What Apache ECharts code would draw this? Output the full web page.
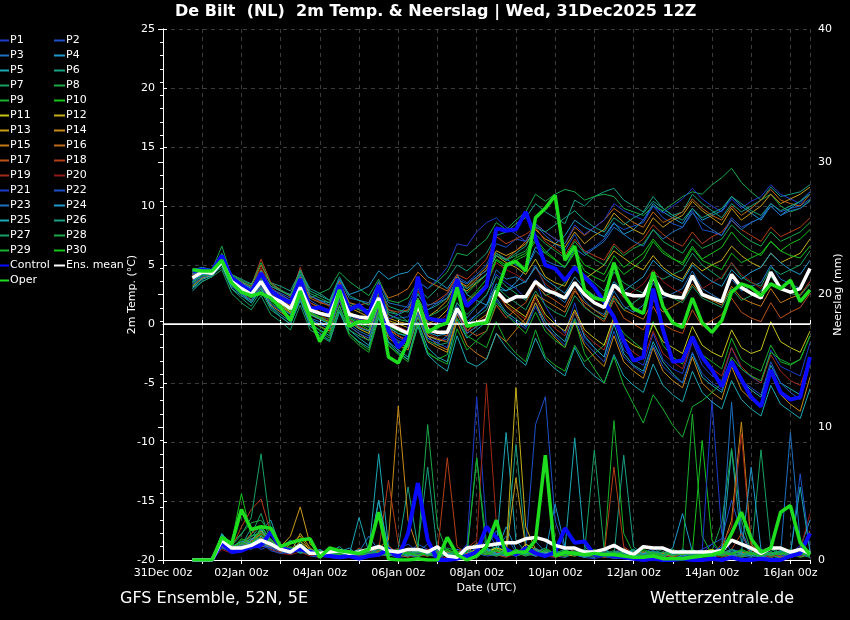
<!DOCTYPE html>
<html>
<head>
<meta charset="utf-8">
<title>De Bilt GFS Ensemble</title>
<script src="https://cdn.jsdelivr.net/npm/echarts@6/dist/echarts.min.js"></script>
<style>
html,body{margin:0;padding:0;background:#000;}
#chart{width:850px;height:620px;}
</style>
</head>
<body>
<div id="chart"></div>
<script>
// time steps: first value at 31Dec 18Z (hour 18 after 31Dec 00Z), every 6 hours
var firstHour = 18;
var stepHours = 6;

// 2m temperature per member (deg C)
var t01 = [3.5,4.0,4.2,5.6, 3.8,3.2,2.6,4.0, 2.5,2.0,1.4,3.5, 1.0,0.6,0.2,2.9, 0.5,0.1,-0.3,2.0, -0.6,-1.2,-1.5,1.0, -1.0,-1.4,-1.3,1.5, 0.2,0.8,1.5,4.2, 3.5,3.0,2.2,3.8, 1.5,0.2,-0.8,1.8, -1.2,-2.0,-2.8,0.5, -2.2,-3.0,-3.5,-0.8, -3.0,-3.8,-4.2,-1.5, -3.5,-4.4,-4.8,-2.0, -3.8,-4.5,-5.0,-2.2, -3.6,-4.0,-4.4,-1.6];
var t02 = [4.2,4.6,4.5,5.2, 3.9,3.4,3.0,4.2, 3.0,2.6,2.2,3.8, 2.0,1.5,1.2,3.2, 1.6,1.3,1.0,2.8, 0.8,0.5,0.6,2.5, 1.2,1.8,2.5,4.0, 3.5,4.2,5.0,6.8, 6.5,7.2,7.0,8.4, 7.5,6.8,6.2,7.6, 6.0,6.5,7.2,8.5, 8.0,8.3,8.6,10.0, 9.0,8.5,8.2,9.6, 8.0,7.8,7.5,9.0, 8.2,8.6,9.0,10.2, 9.5,9.8,10.0,10.6];
var t03 = [3.0,3.8,4.1,5.0, 3.2,2.5,2.0,3.3, 2.0,1.6,0.8,2.6, 0.5,0.2,-0.2,2.3, 0.0,-0.6,-1.0,1.6, -0.8,-1.5,-2.0,0.8, -1.2,-1.6,-1.0,1.8, 0.5,1.5,2.4,4.6, 3.8,4.0,3.5,5.0, 3.2,2.5,1.8,3.4, 2.0,1.2,0.8,2.8, 1.5,1.0,1.6,3.5, 2.2,2.6,3.0,4.5, 3.0,2.5,2.0,3.8, 2.8,3.2,3.5,5.0, 3.8,3.4,3.0,4.5];
var t04 = [4.6,4.8,4.6,5.5, 4.0,3.5,3.0,4.4, 3.2,2.8,2.5,4.2, 2.4,2.0,1.8,3.8, 2.5,2.8,3.2,4.5, 3.8,4.2,4.4,5.2, 4.0,3.6,3.0,4.2, 2.5,2.0,1.6,3.0, 2.8,3.5,4.6,6.5, 6.0,6.8,7.5,8.8, 8.2,7.8,7.4,8.6, 7.6,8.0,8.8,10.2, 9.5,9.0,8.5,9.8, 8.8,9.2,9.6,10.8, 10.0,9.4,8.8,10.0, 9.2,9.8,10.4,11.2];
var t05 = [2.8,3.6,4.0,5.2, 3.4,2.6,1.8,3.0, 1.5,0.8,0.2,2.2, 0.0,-0.5,-1.0,1.5, -0.5,-1.2,-1.8,1.0, -1.5,-2.2,-2.8,0.2, -2.0,-2.8,-3.2,0.4, -1.2,-0.5,0.2,2.2, 1.0,0.4,-0.2,1.8, 0.2,-0.8,-1.5,1.0, -1.0,-2.0,-2.8,0.0, -2.5,-3.5,-4.0,-1.5, -3.2,-4.2,-5.0,-2.5, -4.5,-5.2,-5.8,-3.2, -4.8,-5.6,-6.2,-3.5, -5.0,-5.5,-6.0,-3.0];
var t06 = [4.0,4.5,4.4,5.6, 4.2,3.8,3.4,4.6, 3.5,3.2,2.8,4.5, 3.0,2.6,2.0,3.6, 1.8,1.4,1.2,2.9, 1.0,0.8,1.2,3.0, 2.2,3.0,3.8,5.0, 4.5,5.2,6.0,7.5, 7.8,8.5,9.0,10.2, 9.5,9.0,8.5,10.5, 10.0,10.8,11.2,11.5, 10.5,10.0,9.5,10.8, 9.8,9.2,9.5,11.0, 10.2,9.6,9.0,10.2, 9.5,10.0,10.5,11.6, 10.8,11.0,11.2,11.8];
var t07 = [3.3,4.0,4.2,4.8, 3.0,2.2,1.5,2.8, 1.2,0.6,0.0,2.0, 0.4,0.0,-0.4,2.2, 0.6,0.2,0.5,2.6, 1.2,0.8,0.2,2.0, 0.2,-0.2,0.0,1.8, 0.8,1.6,2.5,4.0, 3.2,2.6,2.0,3.5, 2.4,2.8,3.5,5.0, 4.2,3.5,2.8,4.4, 3.5,3.0,2.6,4.2, 3.8,4.2,4.6,6.0, 5.0,4.4,3.8,5.2, 4.0,3.5,3.2,4.8, 4.2,4.6,5.0,6.2];
var t08 = [4.4,4.7,4.6,6.6, 4.0,3.4,2.8,4.0, 2.6,2.0,1.8,3.6, 2.2,2.6,3.0,4.4, 3.6,3.0,2.4,3.8, 2.0,1.8,2.2,3.6, 3.0,3.6,4.4,6.0, 5.8,6.5,7.2,8.6, 8.0,8.8,9.5,11.0, 10.4,11.0,11.4,11.2, 10.5,10.8,11.0,10.8, 9.8,9.5,9.2,10.0, 9.6,10.2,10.8,11.2, 11.0,11.8,12.4,13.2, 12.0,11.2,10.5,11.0, 10.0,9.5,9.8,10.5];
var t09 = [3.6,4.2,4.3,5.0, 3.2,2.6,2.0,3.0, 1.8,1.2,0.5,2.5, 0.2,-0.6,-1.2,1.2, -1.0,-1.8,-2.4,0.5, -1.8,-2.5,-3.0,0.0, -2.5,-3.0,-2.6,0.5, -1.0,-1.5,-2.0,0.2, -1.5,-2.5,-3.2,-0.5, -2.8,-3.5,-4.0,-1.8, -3.2,-2.5,-1.8,0.5, -0.8,-1.5,-2.2,0.2, -1.8,-2.8,-3.4,-1.0, -2.6,-3.2,-3.8,-1.2, -3.0,-3.6,-4.0,-1.8, -3.2,-3.5,-3.0,-1.0];
var t10 = [4.5,4.4,4.3,5.4, 3.7,3.1,2.5,3.5, 2.2,1.6,1.0,2.8, 1.0,0.6,0.4,2.6, 0.4,0.0,-0.2,1.9, -0.3,-0.8,-1.0,1.4, -0.6,-0.4,0.4,2.6, 2.0,2.8,3.8,5.5, 5.0,5.6,6.0,7.2, 6.2,5.5,4.8,6.0, 4.5,4.0,3.6,5.2, 4.2,4.8,5.5,7.0, 6.0,5.5,5.2,6.6, 5.5,6.0,6.5,7.8, 6.8,6.2,5.8,7.0, 6.2,6.8,7.2,8.0];
var t11 = [3.8,4.3,4.4,5.4, 3.5,2.9,2.4,3.6, 2.2,1.7,1.0,3.0, 0.8,0.4,0.0,2.4, 0.2,-0.4,-0.8,1.7, -0.5,-1.0,-1.4,1.0, -1.0,-1.3,-1.5,0.9, -0.8,-0.2,0.5,2.5, 1.8,1.2,0.6,2.4, 0.8,0.0,-0.6,1.2, -0.5,-1.2,-1.8,0.6, -1.2,-1.8,-2.2,0.0, -1.5,-2.0,-2.5,-0.2, -1.8,-2.4,-2.8,-0.5, -2.0,-2.5,-2.2,0.2, -1.5,-2.0,-2.4,-0.6];
var t12 = [4.3,4.5,4.4,5.6, 3.8,3.2,2.8,3.9, 2.6,2.1,1.6,3.3, 1.5,1.0,0.8,3.0, 1.0,0.6,0.3,2.4, 0.3,0.0,-0.3,2.0, 0.0,0.4,1.2,3.2, 2.8,3.5,4.2,5.8, 5.2,4.8,4.2,5.5, 4.0,3.5,3.2,4.8, 3.8,4.4,5.0,6.2, 5.6,5.0,4.6,5.8, 4.8,4.2,3.8,5.2, 4.5,5.0,5.4,6.6, 5.8,5.2,4.8,6.0, 5.2,5.6,6.0,7.2];
var t13 = [4.1,4.5,4.4,5.3, 3.6,3.1,2.6,4.2, 2.8,2.3,1.8,3.6, 1.8,1.4,1.0,3.4, 1.4,1.0,0.6,2.8, 0.5,0.2,0.0,2.2, 0.6,1.2,2.0,3.6, 3.2,4.0,4.8,6.2, 5.8,6.2,6.8,8.0, 7.2,6.8,6.5,7.8, 6.8,7.5,8.0,9.4, 8.6,8.0,7.6,9.0, 8.2,8.8,9.2,10.4, 9.6,9.0,8.4,9.8, 8.8,9.4,10.0,11.0, 10.2,10.6,11.0,11.6];
var t14 = [3.2,3.9,4.1,5.2, 3.3,2.7,2.0,3.2, 1.6,1.0,0.4,2.4, 0.2,-0.2,-0.6,2.0, -0.2,-0.8,-1.4,1.2, -1.2,-1.8,-2.2,0.6, -1.5,-2.0,-2.4,0.8, -0.6,0.2,0.8,2.8, 1.5,0.8,0.0,1.8, -0.2,-1.2,-2.0,0.2, -1.8,-2.8,-3.6,-1.0, -3.2,-4.0,-4.6,-2.0, -4.0,-4.8,-5.4,-2.8, -5.0,-5.8,-6.4,-3.6, -5.6,-6.4,-7.0,-4.2, -6.0,-6.8,-7.4,-4.5];
var t15 = [3.9,4.4,4.3,5.5, 3.6,2.9,2.3,3.4, 2.0,1.5,0.9,2.9, 0.9,0.5,0.2,2.5, 0.3,-0.2,-0.6,1.8, -0.4,-1.0,-1.5,1.2, -1.0,-1.8,-2.2,0.2, -1.8,-2.5,-3.0,-0.8, -1.5,-0.5,0.5,2.5, 2.0,1.5,1.0,2.8, 1.8,1.2,0.6,2.4, 1.2,0.8,0.4,2.0, 1.0,1.5,2.0,3.4, 2.4,2.0,1.6,3.2, 2.2,1.8,1.5,3.0, 1.8,2.2,2.5,3.6];
var t16 = [4.4,4.6,4.5,5.8, 4.0,3.5,3.2,5.0, 3.4,2.8,2.4,4.0, 2.2,1.8,1.6,3.6, 1.8,1.6,1.8,3.5, 2.2,2.5,3.0,4.4, 3.6,3.2,2.8,4.0, 3.0,3.8,4.6,6.0, 5.5,6.2,7.0,8.5, 7.8,7.2,6.8,8.2, 7.5,8.2,8.8,9.8, 9.2,8.6,8.2,9.5, 8.6,9.0,9.5,10.6, 9.8,9.2,8.8,10.0, 9.2,9.8,10.5,11.4, 10.5,10.2,10.0,11.0];
var t17 = [4.2,4.5,4.4,5.4, 3.7,3.1,2.7,4.6, 2.9,2.4,1.9,3.8, 1.6,1.0,0.6,3.0, 0.8,0.3,-0.1,2.4, 0.0,-0.5,-0.8,1.8, -0.4,-0.8,-1.0,1.2, -0.5,-1.0,-0.6,1.6, 0.5,1.2,1.8,3.4, 2.5,2.0,1.4,3.0, 1.5,0.8,0.2,2.0, 0.5,0.0,-0.5,1.5, 0.0,-0.5,-0.8,1.2, -0.2,0.3,0.8,2.2, 1.0,0.5,0.2,1.8, 0.5,1.0,1.4,2.6];
var t18 = [4.3,4.6,4.5,5.5, 4.0,3.6,3.2,5.5, 3.5,2.9,2.3,4.8, 2.4,1.9,1.5,3.6, 1.6,1.2,1.0,3.3, 1.2,1.0,1.2,2.8, 1.5,2.0,2.6,4.2, 3.8,4.6,5.5,7.4, 6.8,7.2,7.6,8.2, 7.0,6.4,5.8,7.2, 6.2,5.8,5.4,6.8, 6.0,6.6,7.2,8.4, 7.6,7.0,6.6,7.8, 6.8,7.4,7.8,8.8, 8.0,7.5,7.0,8.2, 7.4,7.8,8.2,9.0];
var t19 = [4.0,4.4,4.3,5.3, 3.6,3.0,2.5,4.4, 2.6,2.0,1.5,3.4, 1.2,0.8,0.3,2.6, 0.4,-0.2,-0.6,1.9, -0.4,-1.0,-1.4,1.4, -0.8,-1.2,-1.5,1.0, -0.6,0.0,0.6,2.6, 1.6,1.0,0.4,2.2, 0.5,-0.4,-1.0,1.0, -0.8,-1.6,-2.2,0.4, -1.6,-2.4,-3.0,-0.6, -2.5,-3.2,-3.8,-1.4, -3.0,-3.8,-4.4,-2.0, -3.6,-4.4,-5.0,-2.6, -4.0,-4.8,-5.2,-2.8];
var t20 = [4.1,4.5,4.4,5.6, 3.8,3.3,2.9,4.8, 3.1,2.5,2.0,3.9, 1.8,1.3,0.9,3.0, 0.9,0.5,0.2,2.5, 0.2,-0.2,-0.6,1.9, -0.2,0.2,0.8,2.8, 2.0,2.6,3.4,5.2, 4.6,4.2,3.6,4.8, 3.4,2.8,2.2,3.6, 2.4,1.8,1.4,3.2, 2.2,2.8,3.4,4.6, 3.6,3.0,2.6,4.0, 3.0,3.5,4.0,5.2, 4.2,3.6,3.0,4.2, 3.0,2.6,2.4,3.6];
var t21 = [3.7,4.2,4.3,5.4, 3.5,2.9,2.4,3.8, 2.4,1.9,1.3,3.2, 1.2,0.8,0.6,2.8, 0.7,0.4,0.2,2.3, 0.4,0.8,1.6,3.6, 3.0,3.8,4.8,6.8, 6.6,7.8,8.6,9.0, 8.2,7.6,7.0,8.5, 7.8,7.2,6.8,8.4, 7.6,8.2,8.8,10.2, 9.6,9.2,8.8,10.0, 9.4,10.0,10.6,11.5, 10.6,10.0,9.5,10.6, 9.8,10.4,10.8,11.8, 11.0,10.6,10.2,11.2];
var t22 = [3.4,4.0,4.2,5.0, 3.2,2.6,2.0,3.2, 1.7,1.1,0.5,2.6, 0.4,0.0,-0.4,2.0, -0.2,-0.8,-1.2,1.4, -0.8,-1.4,-1.8,1.0, -1.2,-1.6,-2.0,1.0, -0.8,-0.2,0.2,2.0, 0.8,0.2,-0.4,1.5, -0.2,-1.0,-1.8,0.5, -1.5,-2.4,-3.2,-0.6, -2.8,-3.6,-4.2,-1.8, -3.6,-4.4,-5.0,-2.4, -4.2,-5.0,-5.6,-3.0, -4.8,-5.4,-6.0,-3.2, -5.0,-5.8,-6.4,-3.4];
var t23 = [4.2,4.5,4.4,5.7, 3.9,3.4,2.9,4.3, 3.0,2.5,2.0,4.2, 2.4,2.0,1.6,3.8, 2.2,2.0,1.8,3.6, 1.8,1.6,1.4,3.0, 1.6,1.8,2.2,3.8, 3.4,4.0,4.5,6.0, 5.5,5.0,4.6,6.2, 5.4,5.0,4.8,6.4, 5.8,6.4,7.0,8.2, 7.6,7.0,6.6,8.0, 7.2,7.8,8.2,9.4, 8.6,8.0,7.5,8.8, 8.0,8.6,9.0,10.0, 9.2,9.6,9.8,10.4];
var t24 = [3.6,4.2,4.3,5.1, 3.4,2.8,2.2,3.4, 2.0,1.4,0.8,2.8, 0.8,0.4,0.0,2.4, 0.3,-0.3,-0.6,1.8, -0.3,-0.8,-1.1,1.5, -0.7,-1.0,-0.8,1.4, 0.0,0.8,1.6,3.4, 2.8,3.2,3.6,4.8, 3.8,3.2,2.6,4.0, 3.0,2.4,2.0,3.6, 2.8,3.4,4.0,5.4, 4.6,4.0,3.6,5.0, 4.2,3.6,3.2,4.6, 3.8,4.4,4.8,6.0, 5.2,4.6,4.2,5.4];
var t25 = [3.1,3.8,4.1,5.0, 3.0,2.4,1.8,3.0, 1.4,0.6,0.0,2.0, -0.2,-0.8,-1.4,1.0, -0.8,-1.5,-2.0,0.6, -1.6,-2.4,-3.0,-0.2, -2.6,-3.4,-4.0,-1.0, -3.2,-3.6,-3.0,-0.8, -2.0,-2.8,-3.5,-1.2, -3.0,-3.8,-4.4,-2.0, -3.6,-4.4,-5.0,-2.6, -4.4,-5.2,-5.8,-3.4, -5.2,-6.0,-6.6,-4.0, -5.8,-6.6,-7.2,-4.8, -6.4,-7.2,-7.8,-5.2, -6.8,-7.4,-8.0,-5.5];
var t26 = [4.3,4.5,4.4,5.9, 4.1,3.6,3.1,4.5, 3.2,2.8,2.4,4.6, 2.8,2.4,2.0,4.0, 2.4,2.0,1.6,3.2, 1.5,1.2,1.0,2.6, 1.2,1.6,2.2,3.6, 3.0,3.6,4.2,5.8, 5.4,6.0,6.6,8.2, 7.8,8.4,9.0,9.6, 8.8,8.2,7.8,9.0, 8.4,9.0,9.4,10.4, 9.8,9.2,8.8,9.8, 9.0,9.4,9.8,10.8, 10.2,9.6,9.2,10.2, 9.6,10.0,10.4,11.0];
var t27 = [3.0,3.6,4.0,4.6, 2.6,1.8,1.2,2.4, 0.8,0.2,-0.5,1.6, -0.5,-1.0,-1.5,1.2, -0.5,-1.0,-1.4,1.0, -1.0,-1.6,-2.0,0.6, -1.4,-1.8,-1.6,1.2, -0.2,0.6,1.2,3.2, 2.4,1.8,1.2,2.8, 1.6,1.0,0.6,2.4, 1.4,0.8,0.4,2.2, 1.2,1.8,2.4,3.8, 2.8,2.2,1.8,3.2, 2.2,1.8,1.4,3.0, 2.0,2.4,2.8,4.0, 3.0,2.6,2.4,3.4];
var t28 = [4.5,4.7,4.5,6.0, 4.2,3.7,3.3,5.2, 3.4,2.9,2.4,4.4, 2.6,2.2,1.8,3.4, 1.6,1.2,0.9,2.6, 0.8,0.4,0.2,2.2, 0.6,1.0,1.6,3.4, 2.6,3.4,4.2,6.0, 5.4,5.8,6.2,7.6, 6.8,6.2,5.6,7.0, 6.0,5.5,5.0,6.6, 5.8,6.4,6.8,8.0, 7.0,6.5,6.0,7.2, 6.4,6.8,7.2,8.4, 7.6,7.0,6.6,7.8, 7.0,7.4,7.8,8.6];
var t29 = [3.5,4.1,4.2,5.2, 3.4,2.8,2.2,3.5, 2.0,1.3,0.6,2.6, 0.4,-0.2,-0.8,1.6, -0.8,-1.6,-2.2,0.8, -1.8,-2.6,-3.2,0.0, -2.4,-3.0,-3.4,-0.4, -2.2,-1.4,-0.6,1.8, 0.8,0.0,-0.8,1.0, -0.6,-1.4,-2.0,0.4, -2.5,-3.8,-5.0,-2.8, -5.2,-6.8,-8.4,-6.0, -7.2,-8.6,-9.6,-7.0, -6.5,-5.8,-5.0,-2.8, -3.8,-4.4,-4.8,-2.4, -3.0,-3.4,-3.0,-1.0];
var t30 = [4.0,4.4,4.3,5.4, 3.7,3.1,2.6,3.9, 2.5,1.8,1.1,2.9, 0.9,0.5,0.1,2.6, 0.5,0.0,-0.5,2.0, -0.2,-0.6,-0.9,1.6, -0.6,-0.4,0.4,2.4, 1.8,2.6,3.4,5.4, 4.8,5.4,5.8,7.0, 6.0,5.4,4.8,6.2, 5.0,4.6,4.2,5.8, 4.8,5.4,6.0,7.2, 6.2,5.6,5.0,6.4, 5.4,5.0,4.6,6.0, 5.2,5.6,6.0,7.0, 6.2,5.8,5.6,6.6];
var tControl = [4.5,4.6,4.5,5.8, 3.9,3.3,2.7,4.3, 2.8,2.2,1.8,3.8, 1.3,1.4,1.0,3.3, 1.2,1.6,0.8,3.3, -0.5,-2.0,-1.0,4.0, 0.5,0.3,0.3,3.8, 1.5,2.3,3.2,8.1, 7.9,8.0,9.5,7.3, 5.0,4.7,3.7,4.8, 4.0,3.1,1.9,0.6, -1.4,-3.1,-2.8,3.0, -0.5,-3.2,-3.1,-1.1, -2.8,-3.9,-5.3,-3.2, -4.7,-6.2,-7.0,-3.9, -5.8,-6.4,-6.2,-2.8];
var tMean = [3.9,4.4,4.3,5.3, 3.6,3.0,2.5,3.6, 2.3,1.9,1.3,3.1, 1.2,0.9,0.7,2.8, 0.8,0.6,0.5,2.2, 0.0,-0.4,-0.8,1.6, -0.5,-0.7,-0.7,1.3, 0.0,0.1,0.3,2.8, 1.9,2.3,2.3,3.6, 2.9,2.6,2.2,3.5, 2.5,1.8,1.4,3.3, 2.6,2.4,2.4,4.0, 2.6,2.3,2.2,4.1, 2.5,2.2,1.9,4.2, 3.1,2.6,2.2,4.4, 3.0,2.7,3.0,4.7];
var tOper = [4.6,4.5,4.5,5.4, 3.5,2.7,2.4,2.6, 2.2,1.4,0.3,2.8, 0.5,-1.5,0.0,2.9, -0.2,0.2,0.2,1.9, -2.8,-3.3,-1.5,2.0, -0.7,-0.2,0.1,3.1, -0.2,0.0,0.1,2.5, 5.0,5.3,4.5,9.0, 9.8,10.9,5.4,6.6, 2.9,2.2,2.0,5.2, 2.5,1.3,0.9,4.4, 1.5,0.1,-0.3,2.2, 0.1,-0.7,0.3,2.7, 3.4,3.1,2.4,3.4, 3.0,3.7,1.9,2.9];

// 6-hourly precipitation per member (mm)
var r01 = [0,0,0,1.4, 0.9,1.0,1.3,0.8, 1.1,0.7,0.4,0.9, 0.4,0.3,0.2,0.1, 0.2,0.4,0.6,0.5, 0.3,0.8,1.2,0.6, 0.4,0.2,0.1,0.5, 1.0,12.3,2.4,1.0, 0.6,0.4,0.8,0.5, 0.3,0.2,0.6,0.4, 0.2,0.1,0.3,0.6, 0.9,0.4,0.1,0, 0.1,0.3,0.2,0.8, 0.5,1.2,0.4,0.2, 0.1,0,0.2,0.3, 0.2,0.5,1.1,0.6];
var r02 = [0,0,0,0.9, 0.6,0.8,1.1,1.5, 0.9,0.6,0.5,1.2, 0.3,0.2,0.4,0.8, 0.5,0.2,0.3,0.9, 0.6,0.4,0.5,1.2, 0.8,0.4,0.6,0.3, 0.5,0.9,1.4,0.8, 1.8,0.6,0.9,10.2, 12.3,3.0,0.8,0.4, 0.2,0.5,0.3,0.1, 0.2,0.4,0.6,0.2, 0,0.1,0.3,0.5, 0.8,1.2,1.6,4.5, 2.0,0.4,0.2,0.1, 0.2,0.3,0.4,0.2];
var r03 = [0,0,0,1.0, 0.5,0.7,0.9,1.3, 0.8,0.5,0.6,1.0, 0.4,0.5,0.3,0.2, 0.3,0.6,1.8,0.7, 0.4,0.2,0.3,0.6, 1.2,0.5,0.3,0.8, 0.6,0.4,1.0,2.2, 0.9,0.5,0.7,1.4, 0.6,0.3,0.2,0.5, 0.4,0.8,0.3,0.2, 0.1,0.3,0.5,0.9, 0.4,0.2,0.1,0.3, 0.6,0.4,1.0,0.5, 0.3,0.2,0.4,0.8, 0.5,9.6,1.5,0.4];
var r04 = [0,0,0,1.3, 0.7,1.2,0.8,1.6, 1.0,0.8,1.5,0.7, 0.5,0.8,0.4,0.6, 0.9,0.3,0.5,4.5, 0.8,0.6,0.4,0.9, 0.7,0.3,1.6,0.5, 0.2,0.5,0.9,0.6, 2.5,0.8,0.4,0.7, 0.5,4.2,1.0,0.6, 0.3,0.2,0.5,1.2, 0.4,0.3,0.1,0.2, 0.5,0.9,3.5,0.6, 0.3,0.2,0.4,0.8, 0.6,0.5,0.3,0.2, 0.4,0.6,0.9,3.0];
var r05 = [0,0,0,2.0, 1.1,0.9,1.4,2.2, 3.0,0.9,0.6,0.8, 0.5,0.4,0.6,1.0, 0.4,3.2,0.6,8.0, 1.0,0.5,0.4,0.3, 0.6,0.8,0.5,0.4, 0.8,1.2,0.7,0.9, 9.6,1.5,0.6,0.4, 0.3,0.5,0.8,9.2, 1.0,0.4,0.2,0.3, 0.5,0.8,0.4,0.2, 0.3,0.1,0.2,0.4, 0.5,0.3,0.6,8.3, 1.4,0.5,0.3,0.2, 0.4,0.6,0.3,0.5];
var r06 = [0,0,0,1.6, 0.8,1.1,2.4,1.2, 0.9,0.7,0.5,1.1, 0.6,0.3,0.4,0.5, 0.2,0.5,0.8,0.6, 0.5,0.9,5.5,1.0, 7.0,0.6,0.4,0.3, 0.5,0.8,0.6,1.0, 0.7,8.7,1.2,0.5, 0.4,0.6,0.3,0.5, 0.8,0.4,0.6,0.3, 7.9,1.0,0.4,0.2, 0.3,0.5,0.2,0.1, 0.4,0.6,0.3,0.5, 0.7,0.4,0.2,0.3, 0.5,0.3,0.6,0.4];
var r07 = [0,0,0,1.8, 1.0,1.3,1.9,3.5, 1.4,0.8,0.9,0.6, 0.4,0.7,0.5,0.3, 0.6,0.4,0.5,1.2, 0.7,0.3,0.8,0.5, 0.4,0.6,0.9,0.7, 0.3,7.7,1.3,0.8, 0.5,0.7,0.4,0.6, 0.9,0.5,0.3,0.4, 0.6,8.3,0.8,0.4, 0.3,0.2,0.5,0.6, 0.4,0.3,0.2,0.4, 0.6,0.8,0.5,0.3, 0.2,0.4,8.3,1.0, 0.5,0.3,0.4,0.6];
var r08 = [0,0,0,1.5, 1.2,2.0,2.8,3.0, 2.0,1.0,0.7,0.9, 0.5,0.6,0.4,0.5, 0.3,0.5,0.4,0.8, 0.5,0.4,0.6,0.9, 10.2,2.5,0.6,0.4, 0.3,0.5,0.7,0.6, 0.4,0.6,0.8,0.5, 0.3,0.4,0.6,0.5, 0.2,0.4,0.3,0.5, 0.4,0.6,0.3,0.2, 0.5,0.4,0.6,0.3, 0.4,0.7,2.8,8.4, 3.0,0.6,0.4,0.3, 0.2,0.4,0.5,0.3];
var r09 = [0,0,0,1.1, 0.8,1.5,1.0,2.4, 1.2,0.6,0.8,1.0, 0.7,0.4,0.6,0.8, 0.5,0.3,0.6,0.4, 0.9,0.5,0.3,0.7, 0.5,0.3,0.4,0.6, 0.8,0.4,0.5,0.9, 0.6,0.3,0.8,0.4, 0.5,0.7,0.3,0.6, 0.4,0.3,0.5,10.5, 2.0,0.5,0.3,0.2, 0.4,0.6,0.5,11.0, 1.8,0.4,0.3,0.2, 0.5,0.3,0.4,0.6, 0.3,0.5,0.2,0.4];
var r10 = [0,0,0,1.9, 1.3,5.0,1.8,2.0, 1.6,0.9,0.8,1.2, 0.6,0.5,0.3,0.4, 0.7,0.5,0.4,0.6, 0.3,0.6,0.5,0.4, 0.6,0.5,0.8,0.4, 0.5,0.6,0.4,0.7, 0.5,0.8,0.6,0.4, 0.7,0.5,0.3,0.4, 0.6,0.5,0.4,0.3, 0.5,0.4,0.6,0.3, 0.4,0.5,0.3,0.6, 9.0,1.5,0.4,0.3, 0.5,0.4,0.3,0.6, 0.4,0.3,0.5,0.2];
var r11 = [0,0,0,1.2, 0.7,0.9,1.2,1.0, 1.1,0.8,0.6,1.4, 0.8,0.5,0.6,0.4, 0.3,0.5,0.7,0.6, 0.4,0.8,0.5,0.3, 0.4,0.5,0.3,0.6, 0.8,0.5,0.6,0.9, 0.7,0.4,1.2,0.8, 0.6,0.5,0.4,0.3, 0.5,0.6,0.4,0.5, 0.3,0.4,0.6,0.5, 0.4,0.3,0.5,0.4, 0.6,0.8,0.5,0.4, 0.3,0.5,0.6,0.4, 0.3,0.4,0.5,0.6];
var r12 = [0,0,0,1.0, 0.6,0.8,1.3,1.7, 0.9,0.7,0.5,2.0, 0.9,0.4,0.6,0.8, 0.5,0.4,0.3,0.5, 0.6,0.4,0.5,0.7, 0.5,0.3,0.6,0.4, 0.5,0.8,0.6,0.4, 0.6,13.0,2.5,0.8, 0.5,0.6,0.4,0.5, 0.3,0.4,0.6,0.5, 0.4,0.3,0.5,0.6, 0.3,0.5,0.4,0.3, 0.6,0.4,0.5,0.3, 0.4,0.6,0.3,0.5, 0.4,0.3,0.6,0.5];
var r13 = [0,0,0,1.3, 0.8,1.0,1.5,2.2, 1.3,1.0,1.8,4.0, 1.2,0.6,0.5,0.7, 0.4,0.6,0.5,0.8, 0.5,0.6,0.4,0.5, 0.7,0.4,0.5,0.6, 0.4,0.6,0.5,0.8, 0.5,6.2,0.9,0.6, 0.4,0.5,0.6,0.4, 0.5,0.3,0.4,0.6, 0.5,0.4,0.3,0.5, 0.4,0.6,0.5,0.4, 0.5,0.4,0.6,0.5, 0.3,0.4,0.5,0.6, 0.4,0.5,0.3,0.4];
var r14 = [0,0,0,1.1, 0.7,0.9,1.1,1.4, 1.0,0.6,1.2,1.8, 0.7,0.5,0.4,0.6, 0.5,0.4,0.6,0.9, 1.5,11.6,3.0,0.8, 0.5,0.4,0.6,0.5, 0.4,0.5,0.7,0.6, 0.5,0.4,0.6,0.5, 0.4,0.6,0.5,0.4, 0.6,0.5,0.3,0.4, 0.5,0.6,0.4,0.5, 0.3,0.4,0.6,0.5, 0.4,0.6,0.8,3.0, 10.4,1.2,0.5,0.4, 0.3,0.5,0.4,0.6];
var r15 = [0,0,0,1.4, 0.9,1.2,1.6,1.9, 1.2,0.8,0.6,1.0, 0.6,0.4,0.5,0.3, 0.5,0.6,0.4,0.7, 0.5,0.4,0.6,0.5, 0.3,0.5,0.4,0.6, 0.5,0.4,0.6,0.5, 0.7,0.5,0.4,0.6, 0.5,0.4,0.3,0.5, 0.4,0.6,0.5,0.3, 0.4,0.5,0.6,0.4, 0.5,0.3,0.4,0.5, 0.6,0.4,0.5,0.3, 0.5,0.6,0.4,0.5, 0.3,0.4,0.6,0.5];
var r16 = [0,0,0,1.2, 0.8,1.1,1.4,2.0, 1.5,0.9,0.7,1.1, 0.5,0.6,0.4,0.5, 0.6,0.5,0.3,0.4, 0.6,0.4,0.5,0.6, 0.4,0.6,0.5,0.3, 0.5,0.6,0.4,0.5, 0.4,0.6,0.5,0.7, 0.5,0.4,0.6,0.5, 0.4,0.5,0.3,0.6, 0.5,0.4,0.6,0.5, 0.3,0.5,0.4,0.6, 0.5,0.6,0.4,0.5, 0.6,0.4,0.5,0.3, 0.4,0.6,0.5,2.2];
var r17 = [0,0,0,1.0, 0.7,1.0,2.0,2.6, 1.4,0.8,0.6,0.9, 0.5,0.2,0.7,0.4, 0.3,0.9,0.5,0.6, 1.1,0.4,0.2,0.5, 0.8,0.6,0.3,0.2, 0.5,1.3,0.7,0.4, 0.2,0.6,0.9,0.3, 0.5,0.2,0.4,0.8, 0.3,0.6,0.2,0.5, 0.9,0.4,0.1,0.3, 0.6,0.2,0.5,0.4, 0.3,0.7,0.5,0.2, 0.4,0.8,0.3,0.5, 0.2,0.6,0.4,0.7];
var r18 = [0,0,0,1.3, 0.9,2.5,3.8,4.6, 2.0,1.0,0.8,1.0, 0.6,0.4,0.3,0.6, 0.5,0.3,0.4,0.7, 6.0,1.2,0.5,0.4, 0.3,0.6,7.7,1.0, 0.5,0.4,0.6,0.3, 0.4,0.5,0.7,0.6, 0.3,0.4,0.5,0.6, 0.5,0.3,0.4,7.0, 1.0,0.5,0.3,0.4, 0.6,0.5,0.3,0.4, 0.5,0.6,0.4,0.8, 2.0,0.6,0.4,0.5, 0.3,0.4,0.6,0.5];
var r19 = [0,0,0,1.1, 0.6,0.9,1.2,1.5, 1.0,0.6,0.8,0.7, 0.4,0.3,0.5,0.4, 0.6,0.3,0.5,0.4, 0.3,0.5,0.6,0.4, 0.5,0.3,0.4,0.6, 0.9,1.5,13.3,2.8, 0.6,0.4,0.5,0.3, 0.4,0.6,0.3,0.5, 0.4,0.3,0.6,0.4, 0.5,0.3,0.4,0.6, 0.3,0.5,0.4,0.3, 0.6,0.4,1.2,2.5, 9.5,1.0,0.4,0.3, 0.5,0.4,0.3,0.6];
var r20 = [0,0,0,0.8, 0.5,0.7,1.0,1.2, 0.8,0.5,0.4,0.6, 0.3,0.6,0.2,0.4, 0.5,0.2,0.7,0.3, 0.4,0.9,0.3,0.2, 0.6,0.4,0.1,0.5, 0.3,0.8,0.4,0.6, 0.2,0.5,0.3,0.7, 0.4,0.2,0.6,0.3, 0.5,0.8,0.2,0.4, 0.3,0.6,0.5,0.2, 0.4,0.1,0.6,0.3, 0.7,0.4,0.2,0.5, 0.3,0.6,0.4,0.2, 0.5,0.3,0.8,3.5];
var r21 = [0,0,0,1.2, 0.7,1.0,1.3,1.1, 0.9,0.7,0.5,0.8, 0.4,0.6,0.3,0.5, 0.4,0.3,0.6,0.5, 0.3,0.5,0.4,0.8, 0.6,0.4,0.5,0.3, 1.2,0.6,0.8,0.5, 0.4,0.6,0.3,0.5, 0.7,0.5,0.4,0.6, 0.3,0.5,0.6,0.4, 0.5,0.3,0.4,0.6, 0.4,0.5,0.3,0.4, 0.6,12.0,2.0,0.5, 0.4,0.3,0.5,0.6, 0.3,0.5,0.4,0.3];
var r22 = [0,0,0,1.0, 0.6,0.8,1.0,1.3, 0.7,0.5,0.6,0.9, 0.5,0.3,0.4,0.6, 0.3,0.5,0.4,0.3, 0.5,0.4,0.6,0.5, 0.4,0.3,0.5,0.6, 0.4,0.5,0.3,0.4, 0.6,0.4,0.5,0.3, 0.4,0.6,0.5,0.4, 0.3,0.5,0.4,0.6, 0.5,0.4,0.3,0.5, 0.6,0.4,0.5,0.3, 0.4,0.5,0.6,0.4, 0.3,0.5,0.4,0.6, 0.5,0.3,6.5,0.8];
var r23 = [0,0,0,1.5, 0.9,1.1,1.6,1.3, 1.0,0.8,0.6,0.9, 0.5,0.3,0.7,0.4, 0.6,0.2,0.5,0.8, 0.3,0.6,0.4,0.2, 0.7,0.5,0.3,0.6, 0.4,0.2,0.8,0.5, 0.3,0.6,0.4,0.9, 0.5,0.3,0.7,0.4, 0.2,0.6,0.3,0.5, 0.8,0.4,0.2,0.6, 0.3,0.5,0.7,0.2, 0.4,0.6,1.0,11.9, 2.2,0.6,0.3,0.4, 0.5,0.2,0.4,0.6];
var r24 = [0,0,0,1.7, 1.0,1.4,1.2,1.8, 1.1,0.9,0.7,0.6, 0.8,0.5,0.3,0.6, 0.7,0.4,0.9,0.5, 0.3,0.6,0.4,0.7, 0.5,0.2,0.4,0.6, 0.3,0.7,0.5,0.4, 0.8,0.4,0.6,0.3, 0.5,0.7,0.4,0.6, 0.3,0.5,0.8,0.4, 0.6,0.3,0.5,0.7, 0.4,0.6,0.3,0.5, 0.7,0.4,0.6,0.3, 0.5,7.0,0.8,0.4, 0.6,0.3,0.5,0.7];
var r25 = [0,0,0,1.9, 1.2,0.8,1.5,2.3, 1.3,0.7,0.9,0.5, 0.7,0.4,0.6,0.3, 0.5,0.8,0.4,4.5, 0.7,0.5,0.3,0.6, 0.4,0.7,0.5,0.3, 0.6,0.4,0.8,0.5, 0.3,0.6,0.4,0.7, 0.5,0.3,0.6,0.4, 0.7,0.5,0.3,0.6, 0.4,0.7,0.5,0.3, 0.6,0.4,0.8,0.5, 0.3,0.6,0.4,0.7, 0.5,0.3,0.6,0.4, 0.7,0.5,5.5,0.6];
var r26 = [0,0,0,1.4, 0.8,1.0,1.7,2.6, 1.5,0.8,0.6,1.3, 0.6,0.3,0.5,0.8, 0.4,0.6,0.3,0.5, 0.8,0.4,0.6,0.3, 0.5,0.8,0.4,0.6, 0.3,0.5,0.7,0.4, 0.6,0.3,0.5,0.8, 0.4,0.6,0.3,0.5, 0.7,0.4,0.6,0.3, 0.5,0.8,0.4,0.6, 0.3,0.5,0.7,0.4, 0.6,0.3,0.5,0.8, 0.4,0.6,0.3,0.5, 0.7,0.4,0.6,0.3];
var r27 = [0,0,0,1.6, 1.1,1.9,3.2,8.0, 2.2,1.2,0.8,0.6, 0.5,0.7,0.4,0.6, 0.3,0.5,0.8,0.4, 0.6,0.3,0.5,0.7, 0.4,0.6,0.3,0.5, 0.8,0.4,0.6,0.3, 0.5,0.7,0.4,0.6, 0.3,0.5,0.8,0.4, 0.6,0.3,0.5,0.7, 0.4,0.6,0.3,0.5, 0.8,0.4,0.6,0.3, 0.5,0.7,0.4,0.6, 0.3,0.5,0.8,0.4, 0.6,0.3,0.5,0.7];
var r28 = [0,0,0,1.3, 0.9,1.2,1.8,2.1, 1.2,0.9,0.7,1.0, 0.6,0.4,0.7,0.5, 0.3,0.6,0.4,0.8, 0.5,0.3,0.6,0.4, 0.7,0.5,0.3,0.6, 0.4,0.7,0.5,0.3, 0.6,0.4,0.8,0.5, 0.3,0.6,0.4,0.7, 0.5,0.3,0.6,0.4, 0.7,0.5,0.3,0.6, 0.4,0.8,0.5,0.3, 0.6,0.4,0.7,0.5, 0.3,0.6,0.4,0.8, 0.5,0.3,0.6,0.4];
var r29 = [0,0,0,1.8, 1.0,1.3,1.1,2.5, 1.4,0.8,1.0,0.7, 0.4,0.6,0.3,0.5, 0.7,0.4,0.6,0.3, 0.5,0.8,0.4,0.6, 0.3,0.5,0.7,0.4, 0.6,7.7,0.5,0.8, 0.4,0.6,0.3,0.5, 0.7,0.4,0.6,0.3, 0.5,0.8,0.4,0.6, 0.3,0.5,0.7,0.4, 0.6,0.3,0.5,0.8, 0.4,0.6,0.3,0.5, 0.7,0.4,0.6,0.3, 0.5,0.8,0.4,0.6];
var r30 = [0,0,0,1.5, 0.8,1.6,1.3,1.9, 1.1,0.7,0.9,0.8, 0.5,0.3,0.6,0.4, 0.7,0.5,0.3,0.6, 0.4,0.7,0.5,0.3, 0.6,0.4,0.8,0.5, 0.3,0.6,0.4,0.7, 0.5,0.3,0.6,0.4, 0.8,0.5,0.3,0.6, 0.4,0.7,0.5,0.3, 0.6,0.4,0.8,0.5, 0.3,0.6,0.4,0.7, 0.5,0.3,0.6,0.4, 0.8,0.5,0.3,0.6, 0.4,0.7,0.5,0.3];
var rControl = [0,0,0,1.3, 0.6,0.7,1.0,1.1, 2.1,0.9,0.7,0.8, 0.6,0.4,0.3,0.2, 0.3,0.1,0.3,0.4, 0.8,0.2,2.0,5.8, 1.5,0,0,0.1, 0.3,0.6,2.5,1.7, 0.8,0.4,0.9,0.5, 0.3,0.6,2.4,1.3, 1.4,0.4,0.4,0.3, 0.2,0.1,0,0.1, 0,0,0.1,0, 0,0.1,0,0.2, 0,0,0.1,0, 0,0.3,0.5,2.0];
var rMean = [0,0,0,1.5, 0.9,0.9,1.1,1.5, 1.2,0.8,0.6,1.1, 0.5,0.5,0.6,0.7, 0.5,0.6,0.8,1.0, 0.7,0.6,0.8,0.8, 0.6,1.0,0.3,0.2, 0.9,1.0,1.1,1.2, 1.3,1.3,1.6,1.7, 1.5,1.1,0.9,0.9, 0.6,0.6,0.8,1.1, 0.7,0.4,1.0,0.9, 0.9,0.6,0.6,0.6, 0.6,0.6,0.7,1.5, 1.2,0.9,0.5,0.9, 0.9,0.6,0.8,0.5];
var rOper = [0,0,0,1.7, 1.2,3.8,2.3,2.5, 2.4,1.0,1.3,1.5, 1.6,0.2,0.9,0.7, 0.6,0.5,0.8,3.6, 0.1,0,0,0.1, 0,0,1.7,0.4, 0,0.3,1.0,3.0, 0.4,0.6,0.6,1.5, 7.9,0.3,0.6,0.5, 0.4,0.5,0.4,0.4, 0.3,0.2,0.2,0.3, 0.1,0.1,0.1,0.2, 0.3,0.4,0.6,2.0, 3.6,1.6,0.6,0.9, 3.6,4.1,1.3,0.4];

var memberNames = ['P1','P2','P3','P4','P5','P6','P7','P8','P9','P10','P11','P12','P13','P14','P15',
                   'P16','P17','P18','P19','P20','P21','P22','P23','P24','P25','P26','P27','P28','P29','P30'];
var memberTemp = [t01,t02,t03,t04,t05,t06,t07,t08,t09,t10,t11,t12,t13,t14,t15,t16,t17,t18,t19,t20,t21,t22,t23,t24,t25,t26,t27,t28,t29,t30];
var memberRain = [r01,r02,r03,r04,r05,r06,r07,r08,r09,r10,r11,r12,r13,r14,r15,r16,r17,r18,r19,r20,r21,r22,r23,r24,r25,r26,r27,r28,r29,r30];
// P1..P20 run blue -> green -> yellow -> red, P21..P30 repeat P1..P10
var memberColors = ['#1e3ccc','#1d50c8','#1e70c0','#1e98cc','#1ca8b4','#18a084','#18a064','#1aa84a','#18b02c','#16c41a',
                    '#c4c418','#c4ae18','#c89c18','#c88a18','#c47a18','#c06818','#bc5218','#b43e18','#a42a18','#901a18'];

function toPairs(vals) {
    var out = [];
    for (var i = 0; i < vals.length; i++) {
        out.push([firstHour + i * stepHours, vals[i]]);
    }
    return out;
}

function makeLine(name, vals, yIndex, color, width, z) {
    return {
        name: name,
        type: 'line',
        xAxisIndex: 0,
        yAxisIndex: yIndex,
        data: toPairs(vals),
        symbol: 'none',
        showSymbol: false,
        silent: true,
        z: z,
        lineStyle: { color: color, width: width },
        itemStyle: { color: color }
    };
}

function dateLabel(h) {
    if (h % 48 !== 0) return '';
    var d = h / 24;
    if (d === 0) return '31Dec 00z';
    return (d < 10 ? '0' + d : '' + d) + 'Jan 00z';
}

var series = [];
for (var m = 0; m < memberNames.length; m++) {
    var col = memberColors[m % 20];
    series.push(makeLine(memberNames[m], memberTemp[m], 0, col, 1, 2));
    series.push(makeLine(memberNames[m], memberRain[m], 1, col, 1, 2));
}
var ctrlT = makeLine('Control', tControl, 0, '#0a0aff', 4, 3);
ctrlT.markLine = {
    silent: true, symbol: 'none', label: { show: false },
    lineStyle: { color: '#ffffff', width: 1.5, type: 'solid' },
    data: [{ yAxis: 0 }]
};
series.push(ctrlT);
series.push(makeLine('Control', rControl, 1, '#0a0aff', 4, 3));
series.push(makeLine('Ens. mean', tMean, 0, '#ffffff', 3.5, 4));
series.push(makeLine('Ens. mean', rMean, 1, '#ffffff', 3.5, 4));
series.push(makeLine('Oper', tOper, 0, '#1edc1e', 3.5, 5));
series.push(makeLine('Oper', rOper, 1, '#1edc1e', 3.5, 5));

var leftNames = [], rightNames = [];
for (var k = 0; k < memberNames.length; k++) {
    if (k % 2 === 0) leftNames.push(memberNames[k]); else rightNames.push(memberNames[k]);
}
leftNames.push('Control', 'Oper');
rightNames.push('Ens. mean');

var font = 'DejaVu Sans';
// legend text sits right after the short line sample
var legendBase = {
    orient: 'vertical', top: 33, padding: 0, itemGap: 0,
    itemWidth: 11, itemHeight: 2, icon: 'rect',
    textStyle: { color: '#ffffff', fontSize: 11, fontFamily: font, lineHeight: 15, padding: [0, 0, 0, -4] }
};

var chart = echarts.init(document.getElementById('chart'));
var option = {
    backgroundColor: '#000000',
    animation: false,
    title: [
        { text: 'De Bilt  (NL)  2m Temp. & Neerslag | Wed, 31Dec2025 12Z', left: 175, top: 4, padding: 0,
          textStyle: { color: '#ffffff', fontSize: 16, fontWeight: 'bold', fontFamily: font } },
        { text: 'GFS Ensemble, 52N, 5E', left: 120, top: 591, padding: 0,
          textStyle: { color: '#ffffff', fontSize: 16, fontWeight: 'normal', fontFamily: font } },
        { text: 'Wetterzentrale.de', left: 650, top: 591, padding: 0,
          textStyle: { color: '#ffffff', fontSize: 16, fontWeight: 'normal', fontFamily: font } }
    ],
    legend: [
        Object.assign({}, legendBase, { left: -2, data: leftNames }),
        Object.assign({}, legendBase, { left: 54, data: rightNames })
    ],
    grid: { left: 163, right: 40, top: 29, bottom: 60, show: false, containLabel: false, outerBoundsMode: 'none' },
    xAxis: [
        {
            type: 'value', min: 0, max: 396, interval: 24, position: 'bottom',
            name: 'Date (UTC)', nameLocation: 'middle', nameGap: 23, nameMoveOverlap: false,
            nameTextStyle: { color: '#ffffff', fontSize: 11, fontFamily: font },
            axisLine: { lineStyle: { color: '#ffffff', width: 1 } },
            axisTick: { inside: true, length: 4, lineStyle: { color: '#ffffff' } },
            axisLabel: { color: '#ffffff', fontSize: 11, fontFamily: font, margin: 8, formatter: dateLabel },
            splitLine: { show: true, lineStyle: { color: '#3c3c3c', type: [4, 4] } }
        },
        {
            type: 'value', min: 0, max: 396, interval: 24, position: 'top',
            axisLine: { lineStyle: { color: '#ffffff', width: 1 } },
            axisTick: { inside: true, length: 4, lineStyle: { color: '#ffffff' } },
            axisLabel: { show: false },
            splitLine: { show: false }
        }
    ],
    yAxis: [
        {
            type: 'value', min: -20, max: 25, interval: 5, position: 'left',
            name: '2m Temp. (°C)', nameLocation: 'middle', nameGap: 25, nameMoveOverlap: false,
            nameTextStyle: { color: '#ffffff', fontSize: 11, fontFamily: font },
            axisLine: { show: true, lineStyle: { color: '#ffffff', width: 1 } },
            axisTick: { show: true, inside: true, length: 4, lineStyle: { color: '#ffffff' } },
            axisLabel: { color: '#ffffff', fontSize: 11, fontFamily: font, margin: 8 },
            splitLine: { show: true, lineStyle: { color: '#3c3c3c', type: [4, 4] } }
        },
        {
            type: 'value', min: 0, max: 40, interval: 10, position: 'right',
            name: 'Neerslag (mm)', nameLocation: 'middle', nameGap: 23, nameMoveOverlap: false,
            nameTextStyle: { color: '#ffffff', fontSize: 11, fontFamily: font },
            axisLine: { show: true, lineStyle: { color: '#ffffff', width: 1 } },
            axisTick: { show: true, inside: true, length: 5, lineStyle: { color: '#ffffff' } },
            minorTick: { show: true, splitNumber: 10, length: 3, lineStyle: { color: '#ffffff' } },
            axisLabel: { color: '#ffffff', fontSize: 11, fontFamily: font, margin: 8 },
            splitLine: { show: false }
        }
    ],
    series: series
};
chart.setOption(option);
</script>
</body>
</html>
